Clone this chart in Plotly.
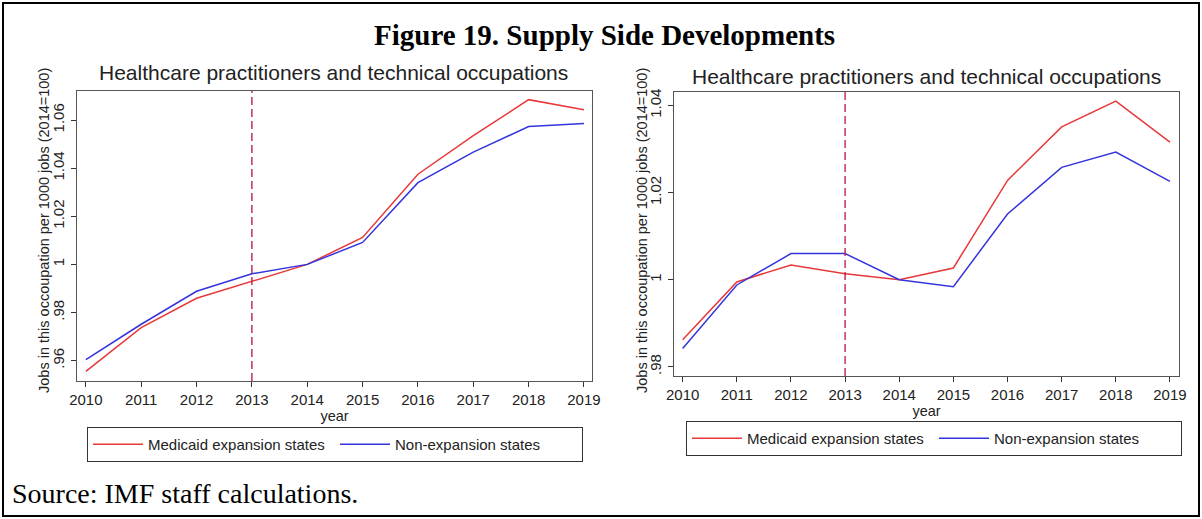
import plotly.graph_objects as go

years = [2010, 2011, 2012, 2013, 2014, 2015, 2016, 2017, 2018, 2019]

# Left panel
left_expansion = [0.9555, 0.9737, 0.9859, 0.9931, 1.0000, 1.0112, 1.0375, 1.0535, 1.0685, 1.0643]
left_nonexp = [0.9604, 0.9751, 0.9888, 0.9961, 1.0000, 1.0091, 1.0340, 1.0467, 1.0573, 1.0586]

# Right panel
right_expansion = [0.9862, 0.9995, 1.0034, 1.0014, 1.0000, 1.0027, 1.0228, 1.0351, 1.0410, 1.0316]
right_nonexp = [0.9842, 0.9988, 1.0060, 1.0060, 1.0000, 0.9984, 1.0151, 1.0258, 1.0293, 1.0226]

left_yticks = [0.96, 0.98, 1.00, 1.02, 1.04, 1.06]
left_yticktext = [".96", ".98", "1", "1.02", "1.04", "1.06"]
right_yticks = [0.98, 1.00, 1.02, 1.04]
right_yticktext = [".98", "1", "1.02", "1.04"]

policy_year = 2013

title = "Figure 19. Supply Side Developments"
panel_title = "Healthcare practitioners and technical occupations"
ylab = "Jobs in this occoupation per 1000 jobs (2014=100)"
source = "Source: IMF staff calculations."
name_exp = "Medicaid expansion states"
name_non = "Non-expansion states"

W, H = 1202, 519
RED = "#e8383a"
BLUE = "#3434dc"
VLINE = "#b8123e"
FRAME = "#555555"
SANS = "Arial, Liberation Sans, sans-serif"
SERIF = "Times New Roman, Liberation Serif, serif"

def px(x):
    return x / W

def py(y):
    return 1 - y / H

fig = go.Figure()

fig.add_trace(go.Scatter(x=years, y=left_expansion, mode="lines", name=name_exp,
                         line=dict(color=RED, width=1.5), xaxis="x", yaxis="y", legend="legend"))
fig.add_trace(go.Scatter(x=years, y=left_nonexp, mode="lines", name=name_non,
                         line=dict(color=BLUE, width=1.5), xaxis="x", yaxis="y", legend="legend"))
fig.add_trace(go.Scatter(x=years, y=right_expansion, mode="lines", name=name_exp,
                         line=dict(color=RED, width=1.5), xaxis="x2", yaxis="y2", legend="legend2"))
fig.add_trace(go.Scatter(x=years, y=right_nonexp, mode="lines", name=name_non,
                         line=dict(color=BLUE, width=1.5), xaxis="x2", yaxis="y2", legend="legend2"))

xcommon = dict(tickmode="array", tickvals=years, ticks="outside", ticklen=5, tickcolor="#333",
               showline=True, linecolor=FRAME, linewidth=1, mirror=True, showgrid=False,
               zeroline=False, automargin=False, tickfont=dict(family=SANS, size=15, color="#222"),
               title=dict(text="year", font=dict(family=SANS, size=14.5, color="#222"), standoff=1))
ycommon = dict(tickmode="array", ticks="outside", ticklen=5, tickcolor="#333", tickangle=-90,
               ticklabelstandoff=1,
               showline=True, linecolor=FRAME, linewidth=1, mirror=True, showgrid=False,
               zeroline=False, automargin=False, tickfont=dict(family=SANS, size=15, color="#222"))

fig.update_layout(
    width=W, height=H,
    margin=dict(l=0, r=0, t=0, b=0, autoexpand=False),
    paper_bgcolor="white", plot_bgcolor="white",
    xaxis=dict(xcommon, domain=[px(77), px(592)], range=[2009.84, 2019.145], anchor="y"),
    yaxis=dict(ycommon, domain=[py(381), py(91)], range=[0.9515, 1.0721],
               tickvals=left_yticks, ticktext=left_yticktext, anchor="x"),
    xaxis2=dict(xcommon, domain=[px(674), px(1179)], range=[2009.84, 2019.167], anchor="y2"),
    yaxis2=dict(ycommon, domain=[py(376), py(92)], range=[0.9779, 1.0431],
                tickvals=right_yticks, ticktext=right_yticktext, anchor="x2"),
    legend=dict(x=px(87), y=py(427), xanchor="left", yanchor="top", orientation="h",
                bordercolor="#333", borderwidth=1, font=dict(family=SANS, size=15, color="#222"),
                entrywidth=182, entrywidthmode="pixels", itemwidth=50),
    legend2=dict(x=px(686), y=py(421), xanchor="left", yanchor="top", orientation="h",
                 bordercolor="#333", borderwidth=1, font=dict(family=SANS, size=15, color="#222"),
                 entrywidth=182, entrywidthmode="pixels", itemwidth=50),
    showlegend=True,
)

# vertical policy lines
for xr, yr in (("x", "y"), ("x2", "y2")):
    fig.add_shape(type="line", xref=xr, yref=f"{yr} domain", x0=policy_year, x1=policy_year,
                  y0=0, y1=1, line=dict(color=VLINE, width=1.3, dash="8px,4px"))

# outer frame
fig.add_shape(type="rect", xref="paper", yref="paper", x0=px(3), x1=px(1199), y0=py(516), y1=py(3),
              line=dict(color="black", width=2))

fig.add_annotation(text=f"<b>{title}</b>", xref="paper", yref="paper", x=px(604), y=py(35),
                   showarrow=False, font=dict(family=SERIF, size=29, color="black"),
                   xanchor="center", yanchor="middle")
fig.add_annotation(text=panel_title, xref="paper", yref="paper", x=px(334), y=py(73),
                   showarrow=False, font=dict(family=SANS, size=21, color="#222"),
                   xanchor="center", yanchor="middle")
fig.add_annotation(text=panel_title, xref="paper", yref="paper", x=px(926), y=py(76),
                   showarrow=False, font=dict(family=SANS, size=21, color="#222"),
                   xanchor="center", yanchor="middle")
# y-axis titles
fig.add_annotation(text=ylab, xref="paper", yref="paper", x=px(44), y=py(231),
                   showarrow=False, textangle=-90, font=dict(family=SANS, size=14.5, color="#222"),
                   xanchor="center", yanchor="middle")
fig.add_annotation(text=ylab, xref="paper", yref="paper", x=px(642), y=py(231),
                   showarrow=False, textangle=-90, font=dict(family=SANS, size=14.5, color="#222"),
                   xanchor="center", yanchor="middle")
fig.add_annotation(text=source, xref="paper", yref="paper", x=px(10), y=py(493),
                   showarrow=False, font=dict(family=SERIF, size=28, color="black"),
                   xanchor="left", yanchor="middle")

fig.write_html("out.html", config={"displayModeBar": False},
               post_script="document.body.style.margin='0';document.body.style.overflow='hidden';")
